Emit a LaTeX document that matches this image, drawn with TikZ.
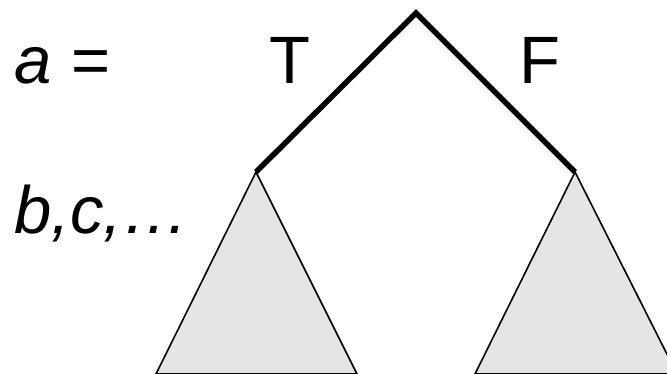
\documentclass[tikz,border=0pt]{standalone}
\usepackage{fontspec}
\setmainfont{Liberation Sans}
\usetikzlibrary{positioning}

\begin{document}
\begin{tikzpicture}[
    x=1pt, y=-1pt,
    branch/.style={line width=5.5pt, line join=miter},
    subtree/.style={draw, line width=1.6pt, fill=black!10, line join=miter},
    lbl/.style={inner sep=0pt, font=\fontsize{67}{67}\selectfont}
]
    \useasboundingbox (0,0) rectangle (667,373);
    \clip (0,0) rectangle (667,373);

    \coordinate (root) at (416,13);
    \coordinate (lt) at (256,172);
    \coordinate (rt) at (575,172);

    % subtrees under each branch
    \draw[subtree] (lt) -- (156,374) -- (357,374) -- cycle;
    \draw[subtree] (rt) -- (475,374) -- (677,374) -- cycle;

    \draw[branch] (lt) -- (root) -- (rt);

    \node[lbl, anchor=base west] (vara) at (14,83) {\itshape a =};
    \node[lbl, anchor=base] (tval) at (290,83) {T};
    \node[lbl, anchor=base] (fval) at (540,83) {F};
    \node[lbl, anchor=base west] (rest) at (14,233) {\itshape b,c,…};
\end{tikzpicture}
\end{document}
